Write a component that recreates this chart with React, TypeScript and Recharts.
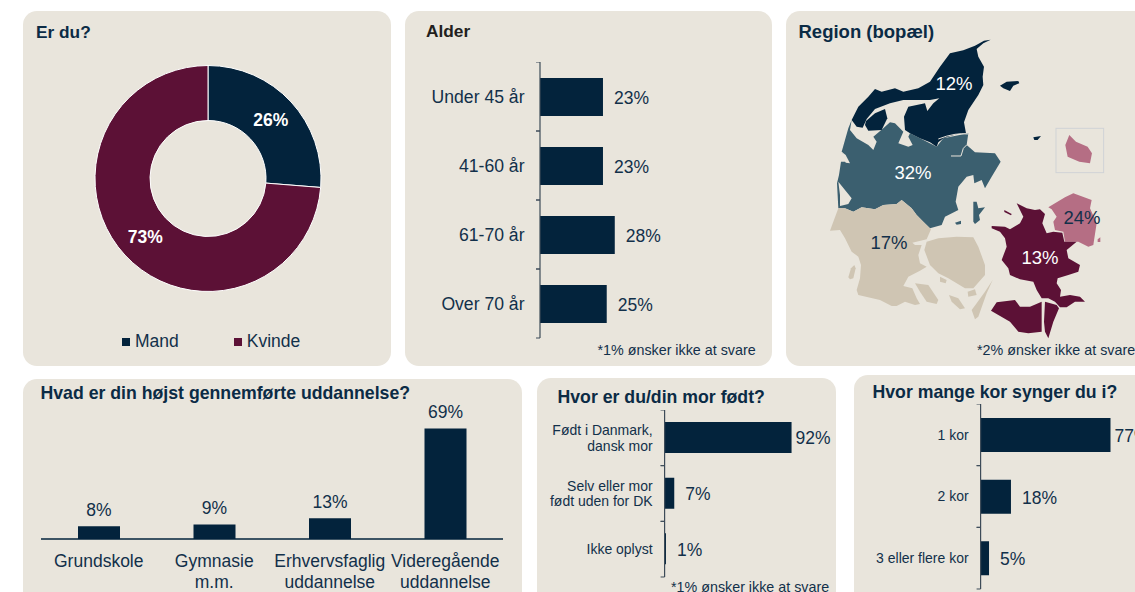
import { Bar, BarChart, Cell, LabelList, Legend, Pie, PieChart, XAxis, YAxis } from "recharts";

const NAVY = "#03233c";
const TEXT = "#12304a";
const PANEL = "#e9e5dc";
const MAROON = "#5c1136";
const TEAL = "#3b5f6f";
const BEIGE = "#cfc5b3";
const PINK = "#b56e84";
const FONT = '"Liberation Sans", Arial, sans-serif';

// Er du?
const genderNames = ["Mand", "Kvinde"];
const genderValues = [26, 73];
const genderColors = [NAVY, MAROON];

// Alder
const ageCategories = ["Under 45 år", "41-60 år", "61-70 år", "Over 70 år"];
const ageValues = [23.5, 23.5, 27.9, 24.9];
const ageLabels = ["23%", "23%", "28%", "25%"];

// Region (bopæl)
const regionLabels = ["12%", "32%", "17%", "13%", "24%"];

// Hvad er din højst gennemførte uddannelse?
const eduCategories = ["Grundskole", "Gymnasie\nm.m.", "Erhvervsfaglig\nuddannelse", "Videregående\nuddannelse"];
const eduValues = [8, 9, 13, 69];

// Hvor er du/din mor født?
const birthCategories = ["Født i Danmark,\ndansk mor", "Selv eller mor\nfødt uden for DK", "Ikke oplyst"];
const birthValues = [92, 7, 1];

// Hvor mange kor synger du i?
const choirCategories = ["1 kor", "2 kor", "3 eller flere kor"];
const choirValues = [77, 18, 5];

type HBarProps = {
  left: number;
  top: number;
  axisX: number;
  plotHeight: number;
  pxPerPct: number;
  barSize: number;
  fontSize: number;
  lineHeight: number;
  labelGap: number;
  categories: string[];
  values: number[];
  labels: string[];
};

function HBars(p: HBarProps) {
  const data = p.categories.map((name, i) => ({ name, value: p.values[i], label: p.labels[i] }));
  const band = p.plotHeight / data.length;
  const yWidth = p.axisX - p.left;
  const renderTick = ({ y, payload }: any) => {
    const lines = String(payload.value).split("\n");
    const startY = y - ((lines.length - 1) * p.lineHeight) / 2;
    return (
      <g>
        <line x1={yWidth - 4} x2={yWidth} y1={y - band / 2} y2={y - band / 2} stroke="#3d4b58" />
        <line x1={yWidth - 4} x2={yWidth} y1={y + band / 2} y2={y + band / 2} stroke="#3d4b58" />
        <text x={yWidth - p.labelGap} y={startY} textAnchor="end" dominantBaseline="central" fontSize={p.fontSize} fill={TEXT} fontFamily={FONT}>
          {lines.map((line, i) => (
            <tspan key={line} x={yWidth - p.labelGap} dy={i === 0 ? 0 : p.lineHeight}>
              {line}
            </tspan>
          ))}
        </text>
      </g>
    );
  };
  const renderValue = ({ x, y, width, height, value }: any) => (
    <text
      x={x + width + (width > 100 ? 4 : 11)}
      y={y + height / 2 + 1}
      dominantBaseline="central"
      fontSize={17.5}
      fill={TEXT}
      fontFamily={FONT}
    >
      {value}
    </text>
  );
  return (
    <div style={{ position: "absolute", left: p.left, top: p.top }}>
      <BarChart
        width={yWidth + p.pxPerPct * 100 + 60}
        height={p.plotHeight + 2}
        data={data}
        layout="vertical"
        margin={{ top: 0, right: 60, bottom: 2, left: 0 }}
      >
        <XAxis type="number" domain={[0, 100]} hide />
        <YAxis
          type="category"
          dataKey="name"
          width={yWidth}
          tick={renderTick}
          tickLine={false}
          axisLine={{ stroke: "#3d4b58", strokeWidth: 1.2 }}
          interval={0}
        />
        <Bar dataKey="value" fill={NAVY} barSize={p.barSize} isAnimationActive={false}>
          <LabelList dataKey="label" content={renderValue} />
        </Bar>
      </BarChart>
    </div>
  );
}

function EduBars() {
  const data = eduCategories.map((name, i) => ({ name, value: eduValues[i] }));
  const renderTick = ({ x, y, payload }: any) => (
    <text x={x} y={y} textAnchor="middle" fontSize={17.5} fill={TEXT} fontFamily={FONT}>
      {String(payload.value)
        .split("\n")
        .map((line, i) => (
          <tspan key={line} x={x} y={y + 20 + i * 21}>
            {line}
          </tspan>
        ))}
    </text>
  );
  return (
    <div style={{ position: "absolute", left: 41, top: 379 }}>
      <BarChart width={462} height={213} data={data} margin={{ top: 0, right: 0, bottom: 0, left: 0 }}>
        <XAxis
          dataKey="name"
          tick={renderTick}
          tickLine={false}
          axisLine={{ stroke: NAVY, strokeWidth: 1.5 }}
          interval={0}
          height={53}
        />
        <YAxis hide domain={[0, 100]} />
        <Bar dataKey="value" fill={NAVY} barSize={42} isAnimationActive={false}>
          <LabelList
            dataKey="value"
            position="top"
            offset={10.5}
            formatter={(v: any) => `${v}%`}
            style={{ fontSize: 17.5, fill: TEXT, fontFamily: FONT }}
          />
        </Bar>
      </BarChart>
    </div>
  );
}

function GenderDonut() {
  const data = genderNames.map((name, i) => ({ name, value: genderValues[i] }));
  const renderLabel = ({ cx, cy, midAngle, innerRadius, outerRadius, value }: any) => {
    const r = (innerRadius + outerRadius) / 2;
    const a = (-midAngle * Math.PI) / 180;
    return (
      <text
        x={cx + r * Math.cos(a)}
        y={cy + r * Math.sin(a)}
        textAnchor="middle"
        dominantBaseline="central"
        fontSize={17.5}
        fontWeight="bold"
        fill="#ffffff"
        fontFamily={FONT}
      >
        {value}%
      </text>
    );
  };
  const renderLegend = ({ payload }: any) => (
    <div style={{ display: "flex", fontFamily: FONT, fontSize: 17.5, color: TEXT }}>
      {payload.map((entry: any, i: number) => (
        <span key={entry.value} style={{ display: "flex", alignItems: "center", marginRight: i === 0 ? 55 : 0 }}>
          <span style={{ width: 8, height: 8, background: genderColors[i], marginRight: 5 }} />
          {entry.value}
        </span>
      ))}
    </div>
  );
  return (
    <div style={{ position: "absolute", left: 23, top: 11 }}>
      <PieChart width={368} height={355}>
        <Pie
          data={data}
          dataKey="value"
          nameKey="name"
          cx={180}
          cy={162.5}
          innerRadius={58}
          outerRadius={113}
          startAngle={90}
          endAngle={-270}
          stroke="#ffffff"
          strokeWidth={1}
          label={renderLabel}
          labelLine={false}
          isAnimationActive={false}
        >
          {data.map((d, i) => (
            <Cell key={d.name} fill={genderColors[i]} />
          ))}
        </Pie>
        <Legend itemSorter={null} content={renderLegend} wrapperStyle={{ left: 99, top: 320, width: 260, bottom: "auto" }} />
      </PieChart>
    </div>
  );
}

function RegionMap() {
  // outlines traced by hand from the picture, not data values
  return (
    <svg width={1135} height={592} style={{ position: "absolute", left: 0, top: 0 }} fontFamily={FONT}>
      <g transform="translate(825,120) scale(0.3333)">
        <path
          fill={TEAL}
          d="M80 0L70 25L60 60L50 95L70 125L48 125L42 165L36 190L40 265L60 265L85 275L110 262L150 268L175 255L215 252L230 240L260 265L275 285L295 305L315 325L350 315L360 290L400 270L392 245L400 200L425 170L445 165L448 190L470 180L480 205L500 170L527 125L510 100L450 97L425 75L430 40L355 55L335 80L285 55L255 40L250 50L263 75L250 80L220 70L235 35L210 10L195 7L175 25L145 50L155 65L145 90L130 75L95 55L75 30Z"
        />
        <path fill={TEAL} d="M445 305L445 245L455 245L460 265L480 262L462 285L465 300L450 312Z" />
        <path fill={TEAL} d="M390 308L408 302L408 312L395 314Z" />
        <path fill={PANEL} d="M40 185L60 210L80 235L70 252L45 258L45 225Z" />
        <path fill={PANEL} d="M50 95L62 105L75 130L62 128Z" />
        <path d="M378 108L408 108L415 85L425 75" fill="none" stroke={PANEL} strokeWidth={3} />
      </g>
      <g transform="translate(840,35) scale(0.3333)" fill={NAVY}>
        <path d="M452 14L430 25L410 42L415 65L432 95L428 125L430 150L415 180L385 225L372 262L378 295L352 297L310 310L295 322L290 335L270 322L240 310L210 295L195 285L192 245L205 215L255 205L262 228L280 205L298 190L270 195L225 195L190 195L150 205L105 222L80 252L68 278L50 275L35 255L55 215L85 185L105 162L125 170L165 160L190 170L235 160L270 140L300 95L330 55L370 46L405 32L432 17Z" />
        <path d="M78 258L105 235L135 222L142 250L125 285L85 287L75 270Z" />
        <path d="M480 152L500 140L535 138L538 145L520 152L510 168L490 160Z" />
        <path d="M295 312Q320 302 345 298Q365 295 385 297" fill="none" stroke={PANEL} strokeWidth={3} />
      </g>
      <g transform="translate(825,200) scale(0.3333)" fill={BEIGE}>
        <path d="M40 25L60 25L85 35L110 22L150 28L175 15L215 12L230 0L260 25L275 45L295 65L318 88L305 118L262 128L270 135L290 135L280 165L285 190L305 200L285 212L250 230L235 258L262 265L275 295L285 312L270 315L240 305L215 318L200 318L165 300L100 285L95 270L105 235L108 195L100 170L80 155L60 115L45 90L15 92Z" />
        <path d="M70 232L78 205L88 195L92 205L85 235L75 238Z" />
        <path d="M270 250L310 255L340 300L335 312L305 305L285 275Z" />
        <path d="M305 125L340 115L395 110L445 112L460 140L480 195L480 225L445 265L420 265L370 235L340 220L315 195L298 150Z" />
        <path d="M503 240L485 280L460 350L450 358L440 330L455 310L480 275Z" />
        <path d="M372 285L400 295L420 325L405 328L380 305Z" />
        <path d="M428 275L450 268L455 285L430 290Z" />
        <path d="M345 230L365 240L362 250L345 245Z" />
      </g>
      <g transform="translate(786,10) scale(0.3333)">
        <path fill={NAVY} d="M742 382L765 378L755 390L745 390Z" />
        <path fill={PINK} d="M850 375L870 395L905 410L918 430L912 460L880 455L845 440L838 405Z" />
        <rect x={810} y={355} width={143} height={133} fill="none" stroke="#d0d3d6" strokeWidth={3} />
      </g>
      <g transform="translate(985,190) scale(0.3333)">
        <path fill={PINK} d="M190 52L240 22L265 10L320 30L315 55L335 100L325 165L310 170L280 155L240 155L235 125L210 120L205 95L215 80L200 58Z" />
        <path fill={PINK} d="M338 148L346 142L346 156L338 156Z" />
        <g fill={MAROON}>
          <path d="M20 108L60 110L75 118L105 100L115 80L95 40L125 55L150 60L165 58L180 72L172 100L185 130L205 125L232 128L238 155L275 155L245 180L250 205L285 225L280 245L250 255L218 265L215 280L228 300L225 320L255 315L285 320L300 335L270 335L245 352L225 352L210 335L190 325L170 325L155 300L145 275L105 268L75 255L70 235L50 210L65 170L60 145L45 125L20 115Z" />
          <path d="M18 362L35 337L90 330L105 350L135 350L170 335L170 425L130 430L100 425L75 395Z" />
          <path d="M180 335L215 345L222 355L205 395L190 445L180 425L177 395Z" />
          <path d="M58 60L80 72L78 76L58 66Z" />
        </g>
      </g>
      <g fontSize={18.5} textAnchor="middle" dominantBaseline="central">
        <text x={954} y={83} fill="#ffffff">{regionLabels[0]}</text>
        <text x={913} y={172.5} fill="#ffffff">{regionLabels[1]}</text>
        <text x={889} y={242} fill={TEXT}>{regionLabels[2]}</text>
        <text x={1040} y={257.5} fill="#ffffff">{regionLabels[3]}</text>
        <text x={1082} y={217.5} fill={TEXT}>{regionLabels[4]}</text>
      </g>
    </svg>
  );
}

const panelStyle = (left: number, top: number, width: number, height: number) => ({
  position: "absolute" as const,
  left,
  top,
  width,
  height,
  background: PANEL,
  borderRadius: 14,
});

function Title({ x, y, size, color, children }: any) {
  return (
    <div
      style={{
        position: "absolute",
        left: x,
        top: y - 12,
        height: 24,
        lineHeight: "24px",
        fontFamily: FONT,
        fontWeight: "bold",
        fontSize: size,
        color: color ?? "#0b2b45",
        whiteSpace: "nowrap",
      }}
    >
      {children}
    </div>
  );
}

function Note({ x, y, children }: any) {
  return (
    <div
      style={{
        position: "absolute",
        left: x,
        top: y - 8,
        height: 16,
        lineHeight: "16px",
        fontFamily: FONT,
        fontSize: 14.3,
        color: TEXT,
        whiteSpace: "nowrap",
      }}
    >
      {children}
    </div>
  );
}

export default function App() {
  return (
    <div style={{ position: "absolute", left: 0, top: 0, width: 1135, height: 592, overflow: "hidden", background: "#ffffff" }}>
      <div style={panelStyle(23, 11, 368, 355)} />
      <div style={panelStyle(405, 11, 367, 355)} />
      <div style={panelStyle(786, 11, 380, 355)} />
      <div style={panelStyle(23, 379, 499, 240)} />
      <div style={panelStyle(537, 378, 299, 240)} />
      <div style={panelStyle(854, 375, 300, 240)} />

      <GenderDonut />
      <Title x={36} y={32} size={17.3}>Er du?</Title>

      <Title x={426} y={31} size={17.3} color="#231f20">Alder</Title>
      <HBars
        left={405}
        top={61.5}
        axisX={540}
        plotHeight={276}
        pxPerPct={2.68}
        barSize={38}
        fontSize={17.6}
        lineHeight={20}
        labelGap={15.5}
        categories={ageCategories}
        values={ageValues}
        labels={ageLabels}
      />
      <Note x={597.5} y={350}>*1% ønsker ikke at svare</Note>

      <RegionMap />
      <Title x={798.5} y={32} size={18.5}>Region (bopæl)</Title>
      <Note x={977} y={350}>*2% ønsker ikke at svare</Note>

      <EduBars />
      <Title x={40.5} y={393} size={17.7}>Hvad er din højst gennemførte uddannelse?</Title>

      <Title x={557.5} y={397} size={17.7}>Hvor er du/din mor født?</Title>
      <HBars
        left={537}
        top={409.5}
        axisX={664.6}
        plotHeight={167}
        pxPerPct={1.38}
        barSize={31}
        fontSize={14}
        lineHeight={15.7}
        labelGap={12}
        categories={birthCategories}
        values={birthValues}
        labels={birthValues.map((v) => `${v}%`)}
      />
      <Note x={671} y={586.5}>*1% ønsker ikke at svare</Note>

      <Title x={872.5} y={392} size={17.7}>Hvor mange kor synger du i?</Title>
      <HBars
        left={854}
        top={404}
        axisX={980.6}
        plotHeight={185}
        pxPerPct={1.687}
        barSize={34}
        fontSize={14}
        lineHeight={15.7}
        labelGap={12}
        categories={choirCategories}
        values={choirValues}
        labels={choirValues.map((v) => `${v}%`)}
      />
    </div>
  );
}
